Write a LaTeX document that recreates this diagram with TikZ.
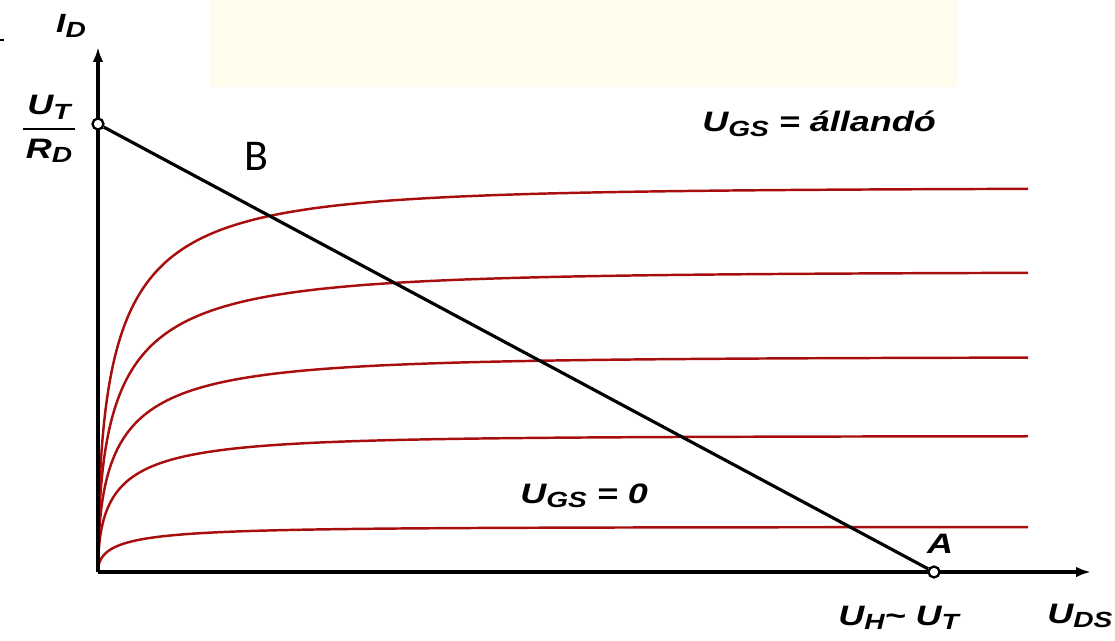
\documentclass[tikz,border=0pt]{standalone}
\usepackage{fontspec}
\usepackage{amsmath}
\setmainfont{Liberation Sans}
\newfontfamily\lblfont[FakeStretch=1.28]{Liberation Sans}
\newfontfamily\calibri{Carlito}
\usetikzlibrary{arrows.meta,positioning}
\definecolor{curvered}{RGB}{168,14,14}
\definecolor{cream}{RGB}{255,252,238}
\newcommand{\lsub}[1]{\raisebox{-0.16em}{\fontsize{12.5}{13}\selectfont #1}}

\begin{document}
\begin{tikzpicture}[x=0.02cm, y=-0.02cm, >={Latex[length=8.5pt,width=6pt]},
    lbl/.style={font=\lblfont\fontsize{16}{18}\selectfont\bfseries\itshape, inner sep=0pt},
    axis/.style={line width=1.8pt, ->},
    curve/.style={draw=curvered, line width=1.4pt},
    loadline/.style={line width=1.8pt},
    pt/.style={draw, circle, fill=white, line width=1.3pt, inner sep=0pt, minimum size=0.22cm}]
    \useasboundingbox (0,0) rectangle (1115,641);
    \fill[cream] (210,0) rectangle (957,87);
    \draw[line width=0.8pt] (0,40) -- (4,40);

    \coordinate (O) at (98,572);
    \coordinate (ytip) at (98,47);
    \coordinate (xtip) at (1091,572);

    % output characteristics
    \foreach \h/\k in {384/25, 300/27, 215/27, 136/24, 45/26}
        \draw[curve] plot[domain=0:30.5, samples=90, smooth, variable=\t]
            ({98+\t*\t}, {572-\h*(1-exp(-\t/sqrt(\k)))});

    \draw[axis] (O) -- (ytip);
    \draw[axis] (O) -- (xtip);

    % load line
    \node[pt] (ptB) at (98,124) {};
    \node[pt] (ptA) at (934,572) {};
    \draw[loadline] (ptB) -- (ptA);

    \node[lbl, font=\lblfont\fontsize{15}{16}\selectfont\bfseries\itshape] (id) at (71,26) {I\lsub{D}};
    \node[lbl] (frac) at (49,129) {$\genfrac{}{}{1.6pt}{0}{\hbox to 30pt{\hss U\lsub{T}\hss}}{\hbox{R\lsub{D}}}$};
    \node[font=\calibri\fontsize{25}{28}\selectfont, inner sep=0pt] (labB) at (256,156) {B};
    \node[lbl, anchor=base west] (ugsconst) at (702,132) {U\lsub{GS} = állandó};
    \node[lbl, anchor=base west] (ugszero) at (520,503) {U\lsub{GS} = 0};
    \node[lbl, anchor=base] (labA) at (940,553) {A};
    \node[lbl, anchor=base west] (uh) at (838,625) {U\lsub{H}\textasciitilde\ U\lsub{T}};
    \node[lbl, anchor=base west] (uds) at (1047,623) {U\lsub{DS}};
\end{tikzpicture}
\end{document}
